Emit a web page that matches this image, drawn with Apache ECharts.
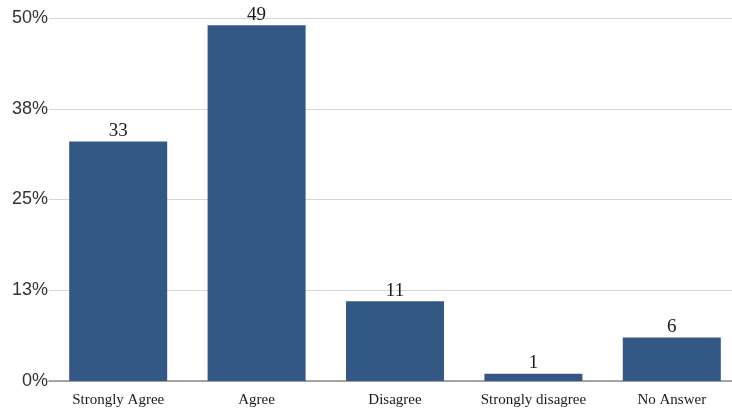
<!DOCTYPE html>
<html><head><meta charset="utf-8">
<script src="https://cdn.jsdelivr.net/npm/echarts@6/dist/echarts.min.js"></script>
<style>html,body{margin:0;padding:0;background:#fff;overflow:hidden;width:732px;height:409px}#c{width:741px;height:409px}</style>
</head><body><div id="c"></div>
<script>
const categories = ['Strongly Agree', 'Agree', 'Disagree', 'Strongly disagree', 'No Answer'];
const values = [33, 49, 11, 1, 6];
const yTicks = [0, 12.5, 25, 37.5, 50];

const chart = echarts.init(document.getElementById('c'), null, {renderer: 'canvas'});
chart.setOption({
  animation: false,
  grid: {left: 49, right: 0, top: 18, bottom: 28, containLabel: false},
  xAxis: {
    type: 'category', data: categories,
    axisLine: {lineStyle: {color: '#8c8c8c', width: 1.5}},
    axisTick: {show: false},
    axisLabel: {interval: 0, fontFamily: 'Liberation Serif', fontSize: 15, color: '#1a1a1a', margin: 12}
  },
  yAxis: {
    type: 'value', min: yTicks[0], max: yTicks[yTicks.length - 1], interval: 12.5,
    axisLine: {show: false}, axisTick: {show: false},
    splitLine: {lineStyle: {color: '#d6d6d6', width: 1}},
    axisLabel: {fontFamily: 'Liberation Sans', fontSize: 18, color: '#333', margin: 1,
      formatter: v => Math.round(v) + '%'}
  },
  series: [{
    type: 'bar', data: values, barWidth: 98,
    itemStyle: {color: '#345886'},
    label: {show: true, position: 'top', distance: 1, fontFamily: 'Liberation Serif', fontSize: 19, color: '#1a1a1a'}
  }]
});
</script></body></html>
